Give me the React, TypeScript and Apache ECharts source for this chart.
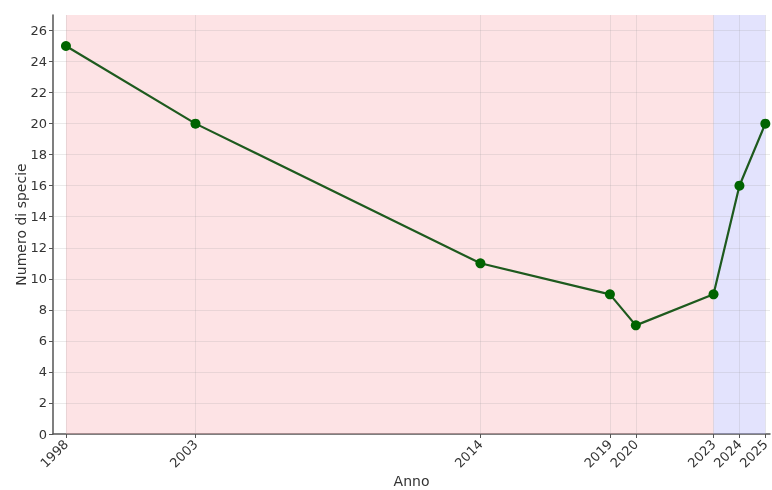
import React, { useEffect, useRef } from "react";
import * as echarts from "echarts";

const years = [1998, 2003, 2014, 2019, 2020, 2023, 2024, 2025];
const species = [25, 20, 11, 9, 7, 9, 16, 20];
const yTicks = [0, 2, 4, 6, 8, 10, 12, 14, 16, 18, 20, 22, 24, 26];
const pinkSpan = [1998, 2023];
const blueSpan = [2023, 2025];

export default function App() {
  const ref = useRef<HTMLDivElement>(null);
  useEffect(() => {
    if (!ref.current) return;
    const chart = echarts.init(ref.current, undefined, { renderer: "svg" });
    const font = "DejaVu Sans";
    chart.setOption({
      animation: false,
      textStyle: { fontFamily: font },
      grid: { left: 53, right: 2, top: 15, bottom: 56, containLabel: false, outerBoundsMode: "none" },
      xAxis: {
        type: "value",
        min: 1997.5,
        max: 2025.18,
        name: "Anno",
        nameLocation: "middle",
        nameGap: 40,
        nameMoveOverlap: false,
        nameTextStyle: { fontSize: 14, color: "#333", fontFamily: font },
        axisLine: { show: true, lineStyle: { color: "#555", width: 1.5 } },
        axisTick: { show: true, customValues: years, length: 4, lineStyle: { color: "#555" } },
        axisLabel: {
          customValues: years,
          rotate: 45,
          fontSize: 13,
          color: "#333",
          fontFamily: font,
          margin: 8,
          formatter: (v: number) => String(v),
        },
        splitLine: { show: false },
      },
      yAxis: {
        type: "value",
        min: 0,
        max: 27,
        name: "Numero di specie",
        nameLocation: "middle",
        nameGap: 25,
        nameMoveOverlap: false,
        nameTextStyle: { fontSize: 14, color: "#333", fontFamily: font },
        axisLine: { show: true, lineStyle: { color: "#555", width: 1.5 } },
        axisTick: { show: true, customValues: yTicks, length: 4, lineStyle: { color: "#555" } },
        axisLabel: { customValues: yTicks, fontSize: 13, color: "#333", fontFamily: font, margin: 6 },
        splitLine: { show: false },
      },
      series: [
        {
          type: "line",
          data: years.map((y, i) => [y, species[i]]),
          lineStyle: { color: "#1e5a1e", width: 2.2 },
          itemStyle: { color: "#006400" },
          symbol: "circle",
          symbolSize: 10,
          z: 5,
          markArea: {
            silent: true,
            data: [
              [
                { xAxis: pinkSpan[0], itemStyle: { color: "rgba(250,170,175,0.33)" } },
                { xAxis: pinkSpan[1] },
              ],
              [
                { xAxis: blueSpan[0], itemStyle: { color: "rgba(170,170,250,0.33)" } },
                { xAxis: blueSpan[1] },
              ],
            ],
          },
          markLine: {
            silent: true,
            symbol: "none",
            label: { show: false },
            lineStyle: { color: "rgba(160,160,160,0.22)", type: "solid", width: 1 },
            data: [
              ...years.map((y) => ({ xAxis: y })),
              ...yTicks.filter((t) => t > 0).map((t) => ({ yAxis: t })),
            ],
          },
        },
      ],
    });
    return () => chart.dispose();
  }, []);
  return <div ref={ref} style={{ width: 772, height: 490, position: "fixed", left: 0, top: 0 }} />;
}
